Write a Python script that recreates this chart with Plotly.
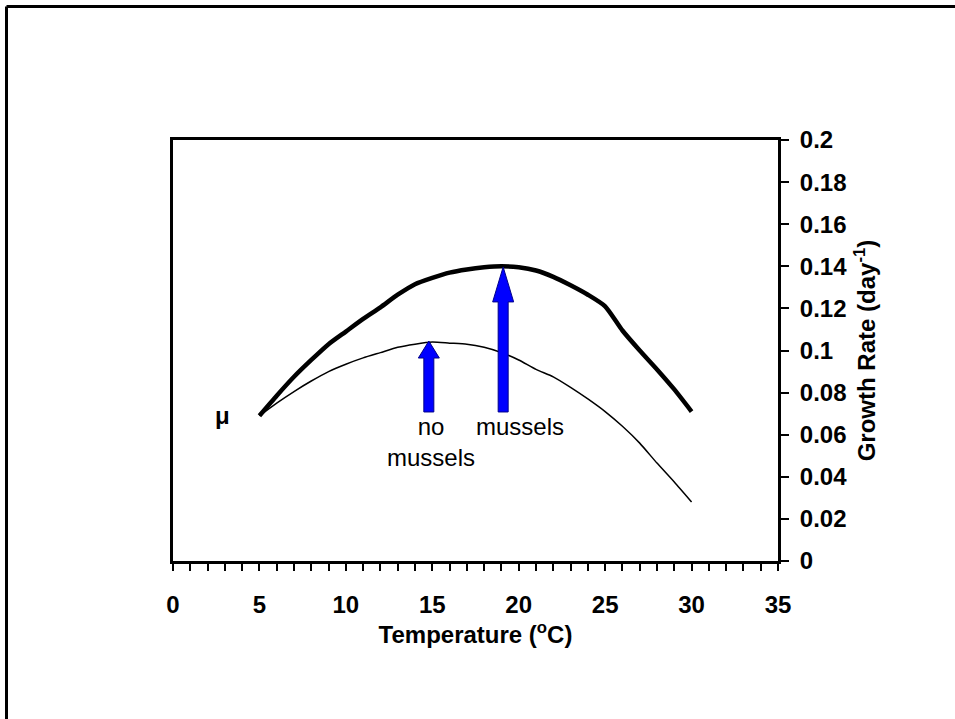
import plotly.graph_objects as go

# growth rate vs temperature
temperature = [5, 6, 7, 8, 9, 10, 11, 12, 13, 14, 15, 16, 17, 18, 19, 20,
               21, 22, 23, 24, 25, 26, 27, 28, 29, 30]
rate_mussels = [0.069, 0.0785, 0.0875, 0.0955, 0.103, 0.109, 0.115, 0.1205,
                0.1265, 0.1315, 0.1345, 0.137, 0.1385, 0.1395, 0.140, 0.1395,
                0.138, 0.135, 0.131, 0.1265, 0.121, 0.1095, 0.100, 0.091,
                0.0815, 0.071]
rate_no_mussels = [0.069, 0.075, 0.0805, 0.0855, 0.090, 0.0935, 0.0965, 0.099,
                   0.1015, 0.103, 0.104, 0.1035, 0.103, 0.1015, 0.099, 0.0955,
                   0.091, 0.0875, 0.0825, 0.077, 0.071, 0.064, 0.056, 0.0465,
                   0.0375, 0.028]

# arrows marking the optimum of each curve
arrow_x = [14.8, 19.1]
arrow_base = [0.0708, 0.0708]
arrow_tip = [0.1045, 0.1397]
arrow_labels = ["no<br>mussels", "mussels"]

FONT = "Arial, 'Liberation Sans', sans-serif"
BLUE = "#0000FF"

# plot area in pixels (used to size the arrow heads)
L, R, T, B = 173, 778, 140, 561
W, H = 955, 719
px_x = (R - L) / 35.0
px_y = (B - T) / 0.2


def arrow_shape(x, y0, y1, head_len_px):
    sw = 5 / px_x
    hw = 10.5 / px_x
    hl = head_len_px / px_y
    xs = [x - sw, x - sw, x - hw, x, x + hw, x + sw, x + sw, x - sw]
    ys = [y0, y1 - hl, y1 - hl, y1, y1 - hl, y1 - hl, y0, y0]
    return xs, ys


fig = go.Figure()

fig.add_trace(go.Scatter(x=temperature, y=rate_no_mussels, mode="lines",
                         line=dict(color="black", width=1.5, shape="spline",
                                   smoothing=0.6),
                         showlegend=False, hoverinfo="skip"))
fig.add_trace(go.Scatter(x=temperature, y=rate_mussels, mode="lines",
                         line=dict(color="black", width=4.5, shape="spline",
                                   smoothing=0.6),
                         showlegend=False, hoverinfo="skip"))

for x, y0, y1, hl in zip(arrow_x, arrow_base, arrow_tip, [17, 35]):
    xs, ys = arrow_shape(x, y0, y1, hl)
    fig.add_trace(go.Scatter(x=xs, y=ys, mode="lines", fill="toself",
                             fillcolor=BLUE, line=dict(color="#00008B", width=1),
                             showlegend=False, hoverinfo="skip"))

fig.add_annotation(x=arrow_x[0] + 0.15, y=arrow_base[0], yshift=1,
                   text=arrow_labels[0], showarrow=False,
                   xanchor="center", yanchor="top",
                   font=dict(family=FONT, size=24, color="black"))
fig.add_annotation(x=arrow_x[1] + 0.95, y=arrow_base[1], yshift=1,
                   text=arrow_labels[1], showarrow=False,
                   xanchor="center", yanchor="top",
                   font=dict(family=FONT, size=24, color="black"))
fig.add_annotation(x=2.85, y=0.069, text="<b>μ</b>", showarrow=False,
                   font=dict(family=FONT, size=24, color="black"))

# outer frame (runs off the right and bottom of the page)
fx = (6.5 - L) / (R - L)
fy = (B - 6.5) / (B - T)
fig.add_shape(type="line", xref="paper", yref="paper", x0=fx, x1=2, y0=fy, y1=fy,
              line=dict(color="black", width=3))
fig.add_shape(type="line", xref="paper", yref="paper", x0=fx, x1=fx, y0=-2, y1=fy,
              line=dict(color="black", width=3))

fig.update_layout(
    width=W, height=H,
    margin=dict(l=L, r=W - R, t=T, b=H - B),
    plot_bgcolor="white", paper_bgcolor="white",
    font=dict(family=FONT, size=24, color="black"),
    xaxis=dict(range=[0, 35], tickvals=[0, 5, 10, 15, 20, 25, 30, 35],
               ticktext=["<b>%d</b>" % v for v in [0, 5, 10, 15, 20, 25, 30, 35]],
               ticks="outside", ticklen=7, tickwidth=1.5, tickcolor="black",
               minor=dict(dtick=1, ticks="outside", ticklen=7, tickwidth=1.5,
                          tickcolor="black"),
               showline=True, linecolor="black", linewidth=3, mirror=True,
               showgrid=False, zeroline=False, ticklabelstandoff=13,
               title=dict(text="<b>Temperature (<sup>o</sup>C)</b>",
                          font=dict(size=24), standoff=1)),
    yaxis=dict(range=[0, 0.2], side="right",
               tickvals=[0, 0.02, 0.04, 0.06, 0.08, 0.1, 0.12, 0.14, 0.16, 0.18, 0.2],
               ticktext=["<b>%g</b>" % v for v in
                         [0, 0.02, 0.04, 0.06, 0.08, 0.1, 0.12, 0.14, 0.16, 0.18, 0.2]],
               ticks="outside", ticklen=8, tickwidth=1.5, tickcolor="black",
               showline=True, linecolor="black", linewidth=3, mirror=True,
               showgrid=False, zeroline=False, ticklabelstandoff=6,
               title=dict(text="<b>Growth Rate (day<sup>-1</sup>)</b>",
                          font=dict(size=24), standoff=13)),
)

# drop the page's default body margin so the figure sits at the top-left corner
fig.write_html("out.html", config={"displayModeBar": False},
               post_script="document.body.style.margin='0';")
